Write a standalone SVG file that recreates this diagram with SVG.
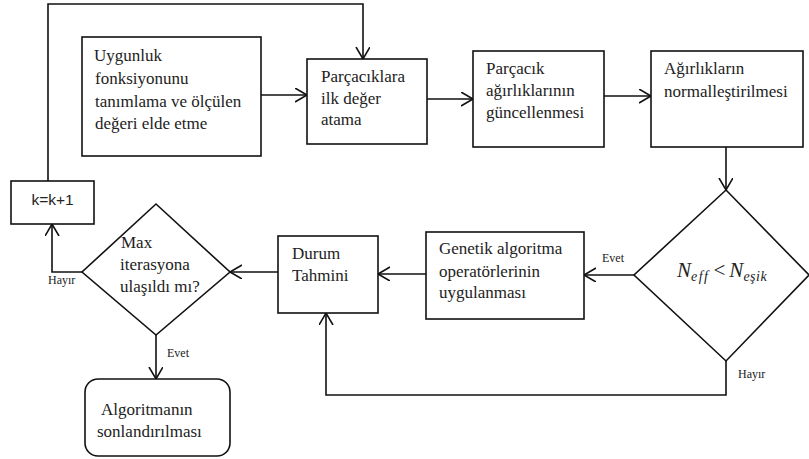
<svg xmlns="http://www.w3.org/2000/svg" width="809" height="459" viewBox="0 0 809 459" font-family="'Liberation Serif', 'Times New Roman', serif">
<style>
.box{fill:#fff;stroke:#111;stroke-width:1.6}
.ln{fill:none;stroke:#111;stroke-width:1.6}
</style>
<defs>
<marker id="a" markerUnits="userSpaceOnUse" markerWidth="14" markerHeight="16" refX="12" refY="7" orient="auto">
<path d="M0,0 L12,7 L0,14" fill="none" stroke="#111" stroke-width="1.6"/>
</marker>
</defs>
<rect width="809" height="459" fill="#fff"/>
<g id="connectors">
<path class="ln" d="M261,95 H307" marker-end="url(#a)"/>
<path class="ln" d="M427,99 H473" marker-end="url(#a)"/>
<path class="ln" d="M604,96 H651" marker-end="url(#a)"/>
<path class="ln" d="M726,147 V190" marker-end="url(#a)"/>
<path class="ln" d="M634,275 H584" marker-end="url(#a)"/>
<path class="ln" d="M426,274 H378" marker-end="url(#a)"/>
<path class="ln" d="M726,361 V395 H326 V313" marker-end="url(#a)"/>
<path class="ln" d="M278,272 H230" marker-end="url(#a)"/>
<path class="ln" d="M82,272 H52 V224" marker-end="url(#a)"/>
<path class="ln" d="M156,335 V379" marker-end="url(#a)"/>
<path class="ln" d="M48,181 V4 H363 V59" marker-end="url(#a)"/>
<g font-family="'Liberation Serif', serif" font-size="12" fill="#222">
<text x="602" y="262">Evet</text>
<text x="738" y="378">Hayır</text>
<text x="48" y="284">Hayır</text>
<text x="167" y="357">Evet</text>
</g>
</g>
<g id="uygunluk" font-family="'Liberation Serif', serif" font-size="17" fill="#222">
<rect class="box" x="82" y="37" width="179" height="119"/>
<text x="94" y="61">Uygunluk</text>
<text x="95" y="84">fonksiyonunu</text>
<text x="95" y="107">tanımlama ve ölçülen</text>
<text x="95" y="129">değeri elde etme</text>
</g>
<g id="parcaciklara" font-family="'Liberation Serif', serif" font-size="17" fill="#222">
<rect class="box" x="307" y="59" width="120" height="85"/>
<text x="321" y="82">Parçacıklara</text>
<text x="321" y="104">ilk değer</text>
<text x="321" y="125">atama</text>
</g>
<g id="parcacik" font-family="'Liberation Serif', serif" font-size="17" fill="#222">
<rect class="box" x="473" y="51" width="131" height="96"/>
<text x="486" y="74">Parçacık</text>
<text x="486" y="96">ağırlıklarının</text>
<text x="486" y="118">güncellenmesi</text>
</g>
<g id="agirliklar" font-family="'Liberation Serif', serif" font-size="17" fill="#222">
<rect class="box" x="651" y="51" width="152" height="96"/>
<text x="664" y="74">Ağırlıkların</text>
<text x="664" y="97">normalleştirilmesi</text>
</g>
<g id="neff" font-family="'Liberation Serif', serif" fill="#222">
<path class="box" d="M726,190 L809,275 L726,361 L634,275 Z"/>
<text x="677" y="277" font-size="21" font-style="italic">N<tspan font-size="14" dy="4" letter-spacing="1.5">eff</tspan><tspan font-style="normal" font-size="21" dy="-4" dx="4">&lt;</tspan><tspan dx="4">N</tspan><tspan font-size="14" dy="4" letter-spacing="0.5">eşik</tspan></text>
</g>
<g id="genetik" font-family="'Liberation Serif', serif" font-size="17" fill="#222">
<rect class="box" x="426" y="232" width="158" height="87"/>
<text x="439" y="254">Genetik algoritma</text>
<text x="439" y="277">operatörlerinin</text>
<text x="439" y="298">uygulanması</text>
</g>
<g id="durum" font-family="'Liberation Serif', serif" font-size="17" fill="#222">
<rect class="box" x="278" y="236" width="100" height="77"/>
<text x="292" y="259">Durum</text>
<text x="292" y="281">Tahmini</text>
</g>
<g id="max" font-family="'Liberation Serif', serif" font-size="17" fill="#222">
<path class="box" d="M156,204 L230,272 L156,335 L82,272 Z"/>
<text x="121" y="248">Max</text>
<text x="120" y="270">iterasyona</text>
<text x="120" y="292">ulaşıldı mı?</text>
</g>
<g id="k" font-family="'Liberation Sans', Arial, sans-serif" font-size="15.5" fill="#222">
<rect class="box" x="11" y="181" width="83" height="43"/>
<text x="52.5" y="205" text-anchor="middle">k=k+1</text>
</g>
<g id="algoritma" font-family="'Liberation Serif', serif" font-size="17" fill="#222">
<rect class="box" x="85" y="379" width="145" height="77" rx="13"/>
<text x="101" y="415">Algoritmanın</text>
<text x="97" y="437">sonlandırılması</text>
</g>
</svg>
